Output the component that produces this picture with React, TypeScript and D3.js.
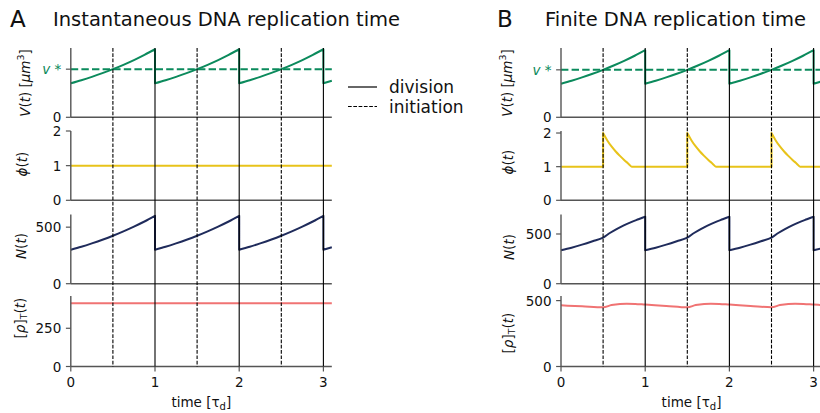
import React from 'react';
import * as d3 from 'd3';

type Pt = [number, number];

const FONT = "'DejaVu Sans', sans-serif";

// ---------- data ----------
const xTicks = [0, 1, 2, 3];
const divisionTimes = [1, 2, 3];
const initiationTimes = [0.5, 1.5, 2.5];

// Panel A: instantaneous replication
const volumeA: Pt[] = [
  [0, 0.707], [0.125, 0.771], [0.25, 0.841], [0.375, 0.917], [0.5, 1.0], [0.625, 1.091], [0.75, 1.189], [0.875, 1.297], [1, 1.414],
  [1, 0.707], [1.125, 0.771], [1.25, 0.841], [1.375, 0.917], [1.5, 1.0], [1.625, 1.091], [1.75, 1.189], [1.875, 1.297], [2, 1.414],
  [2, 0.707], [2.125, 0.771], [2.25, 0.841], [2.375, 0.917], [2.5, 1.0], [2.625, 1.091], [2.75, 1.189], [2.875, 1.297], [3, 1.414],
  [3, 0.707], [3.1, 0.758],
];
const phiA: Pt[] = [[0, 1], [3.1, 1]];
const numberA: Pt[] = [
  [0, 300], [0.125, 327], [0.25, 357], [0.375, 389], [0.5, 424], [0.625, 463], [0.75, 505], [0.875, 550], [1, 600],
  [1, 300], [1.125, 327], [1.25, 357], [1.375, 389], [1.5, 424], [1.625, 463], [1.75, 505], [1.875, 550], [2, 600],
  [2, 300], [2.125, 327], [2.25, 357], [2.375, 389], [2.5, 424], [2.625, 463], [2.75, 505], [2.875, 550], [3, 600],
  [3, 300], [3.1, 322],
];
const rhoA: Pt[] = [[0, 414], [3.1, 414]];

// Panel B: finite replication
const volumeB: Pt[] = [
  [0, 0.707], [0.125, 0.771], [0.25, 0.841], [0.375, 0.917], [0.5, 1.0], [0.625, 1.091], [0.75, 1.189], [0.875, 1.297], [1, 1.414],
  [1, 0.707], [1.125, 0.771], [1.25, 0.841], [1.375, 0.917], [1.5, 1.0], [1.625, 1.091], [1.75, 1.189], [1.875, 1.297], [2, 1.414],
  [2, 0.707], [2.125, 0.771], [2.25, 0.841], [2.375, 0.917], [2.5, 1.0], [2.625, 1.091], [2.75, 1.189], [2.875, 1.297], [3, 1.414],
  [3, 0.707], [3.1, 0.758],
];
const phiB: Pt[] = [
  [0, 1], [0.5, 1],
  [0.5, 2], [0.55, 1.78], [0.6, 1.6], [0.65, 1.45], [0.7, 1.32], [0.75, 1.2], [0.8, 1.09], [0.84, 1], [1, 1], [1.5, 1],
  [1.5, 2], [1.55, 1.78], [1.6, 1.6], [1.65, 1.45], [1.7, 1.32], [1.75, 1.2], [1.8, 1.09], [1.84, 1], [2, 1], [2.5, 1],
  [2.5, 2], [2.55, 1.78], [2.6, 1.6], [2.65, 1.45], [2.7, 1.32], [2.75, 1.2], [2.8, 1.09], [2.84, 1], [3.1, 1],
];
const numberB: Pt[] = [
  [0, 336], [0.125, 362], [0.25, 393], [0.375, 427], [0.5, 463], [0.58, 510], [0.66, 550], [0.74, 585], [0.84, 622], [0.92, 648], [1, 674],
  [1, 336], [1.125, 362], [1.25, 393], [1.375, 427], [1.5, 463], [1.58, 510], [1.66, 550], [1.74, 585], [1.84, 622], [1.92, 648], [2, 674],
  [2, 336], [2.125, 362], [2.25, 393], [2.375, 427], [2.5, 463], [2.58, 510], [2.66, 550], [2.74, 585], [2.84, 622], [2.92, 648], [3, 674],
  [3, 336], [3.1, 357],
];
const rhoB: Pt[] = [
  [0, 464], [0.25, 457], [0.5, 449], [0.6, 466], [0.7, 475], [0.78, 477], [0.88, 475], [1, 470],
  [1.25, 460], [1.5, 449], [1.6, 466], [1.7, 475], [1.78, 477], [1.88, 475], [2, 470],
  [2.25, 460], [2.5, 449], [2.6, 466], [2.7, 475], [2.78, 477], [2.88, 475], [3, 470], [3.1, 466],
];

const vStar = 1;
const phiTicks = [0, 1, 2];
const numberTicks = [0, 500];
const rhoTicksA = [0, 250];
const rhoTicksB = [0, 500];

const COLORS = { v: '#0b8a5c', phi: '#e8c31a', n: '#1f2b5b', rho: '#f07373' };

// ---------- layout ----------
const W = 820;
const H = 413;
const ROWS: [number, number][] = [[48, 117.3], [131, 200.3], [214.5, 283.7], [296, 366.5]];
const SPINE = '#555';

function buildPath(pts: Pt[], xs: d3.ScaleLinear<number, number>, ys: d3.ScaleLinear<number, number>) {
  const segs: Pt[][] = [];
  let cur: Pt[] = [];
  pts.forEach((p, i) => {
    if (i > 0 && p[0] === pts[i - 1][0]) {
      segs.push(cur);
      cur = [];
    }
    cur.push(p);
  });
  segs.push(cur);
  const line = d3.line<Pt>().x((d) => xs(d[0])).y((d) => ys(d[1])).curve(d3.curveMonotoneX);
  return segs.map((s, i) => {
    const d = line(s) || '';
    return i === 0 ? d : 'L' + d.slice(1);
  }).join('');
}

type RowSpec = {
  data: Pt[];
  color: string;
  top: number;
  ticks: { v: number; label: React.ReactNode; color?: string; italic?: boolean }[];
  label: React.ReactNode;
  labelPos: [number, number];
  ref?: number;
};

function Panel(props: { x0: number; letter: string; title: string; letterX: number; titleX: number; rows: RowSpec[] }) {
  const { x0, rows } = props;
  const xs = d3.scaleLinear().domain([0, 3.1]).range([x0, x0 + 3.1 * 84.2]);
  const xEnd = xs(3.1);
  return (
    <g>
      <text x={props.letterX} y={27} fontSize={23} fill="#111">{props.letter}</text>
      <text x={props.titleX} y={26} fontSize={19.5} fill="#111">{props.title}</text>
      {rows.map((r, i) => {
        const [yt, yb] = ROWS[i];
        const ys = d3.scaleLinear().domain([0, r.top]).range([yb, yt]);
        return (
          <g key={i}>
            {r.ref !== undefined && (
              <line x1={x0} x2={xEnd} y1={ys(r.ref)} y2={ys(r.ref)} stroke={r.color} strokeWidth={2} strokeDasharray="7.4,3.2" />
            )}
            <path d={buildPath(r.data, xs, ys)} fill="none" stroke={r.color} strokeWidth={2} strokeLinejoin="round" />
            <line x1={x0} x2={x0} y1={yt} y2={yb} stroke={SPINE} strokeWidth={1.4} />
            <line x1={x0} x2={xEnd} y1={yb} y2={yb} stroke={SPINE} strokeWidth={1.4} />
            {r.ticks.map((t, j) => (
              <g key={j}>
                <line x1={x0 - 4.9} x2={x0} y1={ys(t.v)} y2={ys(t.v)} stroke={SPINE} strokeWidth={1.2} />
                <text x={x0 - 9.5} y={ys(t.v)} textAnchor="end" dominantBaseline="central" fontSize={13.5}
                  fill={t.color || '#111'} fontStyle={t.italic ? 'italic' : 'normal'}>{t.label}</text>
              </g>
            ))}
            <text transform={`translate(${r.labelPos[0]},${r.labelPos[1]}) rotate(-90)`} textAnchor="middle"
              dominantBaseline="central" fontSize={13.5} fill="#111">{r.label}</text>
          </g>
        );
      })}
      {divisionTimes.map((t) => (
        <line key={'d' + t} x1={xs(t)} x2={xs(t)} y1={ROWS[0][0]} y2={ROWS[3][1]} stroke="#000" strokeWidth={1.1} />
      ))}
      {initiationTimes.map((t) => (
        <line key={'i' + t} x1={xs(t)} x2={xs(t)} y1={ROWS[0][0]} y2={ROWS[3][1]} stroke="#000" strokeWidth={1.1} strokeDasharray="3.7,1.6" />
      ))}
      {xTicks.map((t) => (
        <g key={'x' + t}>
          <line x1={xs(t)} x2={xs(t)} y1={ROWS[3][1]} y2={ROWS[3][1] + 4.9} stroke={SPINE} strokeWidth={1.2} />
          <text x={xs(t)} y={ROWS[3][1] + 20} textAnchor="middle" fontSize={13.5} fill="#111">{t}</text>
        </g>
      ))}
      <text x={(x0 + xEnd) / 2} y={407} textAnchor="middle" fontSize={13.5} fill="#111">
        time [τ<tspan dy={3} fontSize={10}>d</tspan><tspan dy={-3}>]</tspan>
      </text>
    </g>
  );
}

const vLabel = (
  <>
    <tspan fontStyle="italic">V</tspan>(<tspan fontStyle="italic">t</tspan>) [<tspan fontStyle="italic">μm</tspan>
    <tspan dy={-5} fontSize={9.5}>3</tspan><tspan dy={5}>]</tspan>
  </>
);
const phiLabel = (<><tspan fontStyle="italic">ϕ</tspan>(<tspan fontStyle="italic">t</tspan>)</>);
const nLabel = (<><tspan fontStyle="italic">N</tspan>(<tspan fontStyle="italic">t</tspan>)</>);
const rhoLabel = (
  <>
    [<tspan fontStyle="italic">ρ</tspan>]<tspan dy={3} fontSize={9.5}>T</tspan><tspan dy={-3}>(</tspan>
    <tspan fontStyle="italic">t</tspan>)
  </>
);

export default function App() {
  const vTicks = [
    { v: 0, label: '0' },
    { v: vStar, label: 'v *', color: COLORS.v, italic: true },
  ];
  const rowsA: RowSpec[] = [
    { data: volumeA, color: COLORS.v, top: 1.44, ticks: vTicks, label: vLabel, labelPos: [25, 83], ref: vStar },
    { data: phiA, color: COLORS.phi, top: 2, ticks: phiTicks.map((v) => ({ v, label: String(v) })), label: phiLabel, labelPos: [22, 164] },
    { data: numberA, color: COLORS.n, top: 612, ticks: numberTicks.map((v) => ({ v, label: String(v) })), label: nLabel, labelPos: [21, 246] },
    { data: rhoA, color: COLORS.rho, top: 461, ticks: rhoTicksA.map((v) => ({ v, label: String(v) })), label: rhoLabel, labelPos: [20, 318] },
  ];
  const rowsB: RowSpec[] = [
    { data: volumeB, color: COLORS.v, top: 1.46, ticks: vTicks, label: vLabel, labelPos: [507, 83], ref: vStar },
    { data: phiB, color: COLORS.phi, top: 2.06, ticks: phiTicks.map((v) => ({ v, label: String(v) })), label: phiLabel, labelPos: [508, 162] },
    { data: numberB, color: COLORS.n, top: 696, ticks: numberTicks.map((v) => ({ v, label: String(v) })), label: nLabel, labelPos: [509, 247] },
    { data: rhoB, color: COLORS.rho, top: 535, ticks: rhoTicksB.map((v) => ({ v, label: String(v) })), label: rhoLabel, labelPos: [508, 333] },
  ];
  return (
    <svg width={W} height={H} style={{ position: 'absolute', left: 0, top: 0, background: '#fff' }} fontFamily={FONT}>
      <rect width={W} height={H} fill="#fff" />
      <Panel x0={70.8} letter="A" title="Instantaneous DNA replication time" letterX={10} titleX={53} rows={rowsA} />
      <Panel x0={561} letter="B" title="Finite DNA replication time" letterX={497} titleX={545} rows={rowsB} />
      <g>
        <line x1={348} x2={377} y1={87} y2={87} stroke="#000" strokeWidth={1.2} />
        <text x={389} y={87} dominantBaseline="central" fontSize={17} fill="#111">division</text>
        <line x1={348} x2={377} y1={106.5} y2={106.5} stroke="#000" strokeWidth={1.2} strokeDasharray="3.7,1.6" />
        <text x={389} y={106.5} dominantBaseline="central" fontSize={17} fill="#111">initiation</text>
      </g>
    </svg>
  );
}
